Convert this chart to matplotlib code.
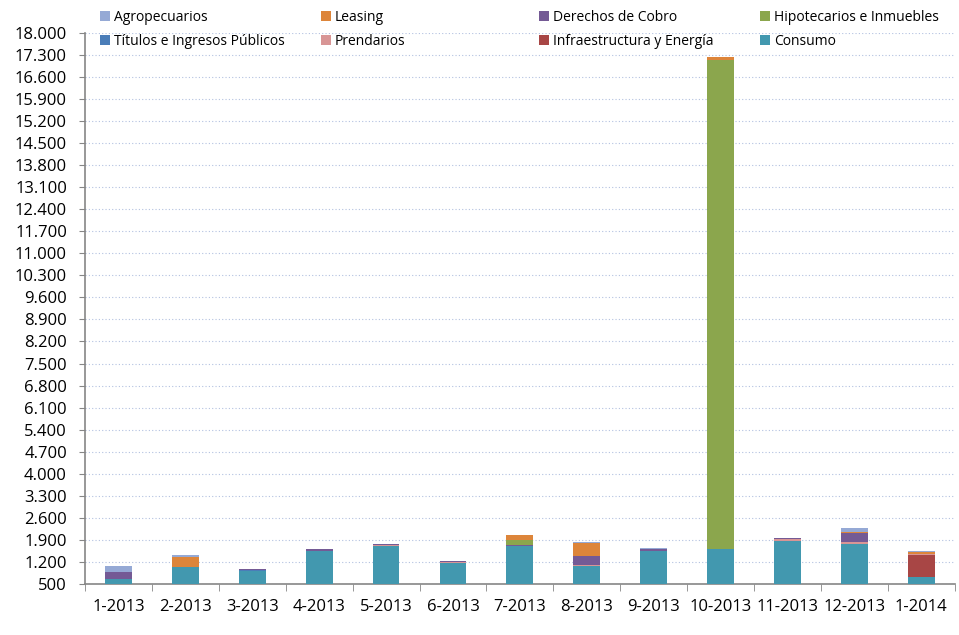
import matplotlib
matplotlib.use('Agg')
import matplotlib.pyplot as plt
from matplotlib.ticker import FuncFormatter
import numpy as np

plt.rcParams['font.family'] = ['Open Sans', 'DejaVu Sans']

months = ['1-2013', '2-2013', '3-2013', '4-2013', '5-2013', '6-2013', '7-2013',
          '8-2013', '9-2013', '10-2013', '11-2013', '12-2013', '1-2014']

# stacking order, bottom to top
consumo = [660, 1040, 910, 1550, 1715, 1165, 1715, 1080, 1550, 1610, 1865, 1780, 720]
infraestructura = [0, 0, 0, 0, 0, 0, 0, 0, 0, 0, 0, 0, 700]
prendarios = [0, 0, 0, 0, 30, 40, 0, 30, 0, 0, 63, 44, 20]
titulos = [0, 0, 20, 0, 0, 0, 0, 0, 0, 0, 0, 0, 0]
derechos = [230, 0, 45, 65, 30, 20, 30, 285, 65, 0, 32, 296, 0]
hipotecarios = [0, 0, 0, 0, 0, 0, 150, 0, 0, 15540, 0, 0, 0]
leasing = [0, 320, 0, 0, 0, 0, 170, 415, 0, 75, 0, 41, 85]
agropecuarios = [180, 65, 0, 0, 0, 0, 0, 30, 30, 0, 0, 118, 20]

series = [
    ('Consumo', consumo, '#4298AF'),
    ('Infraestructura y Energía', infraestructura, '#A84645'),
    ('Prendarios', prendarios, '#D89595'),
    ('Títulos e Ingresos Públicos', titulos, '#4A7DB8'),
    ('Derechos de Cobro', derechos, '#745A95'),
    ('Hipotecarios e Inmuebles', hipotecarios, '#8BA64D'),
    ('Leasing', leasing, '#DD853A'),
    ('Agropecuarios', agropecuarios, '#95A9D5'),
]

fig = plt.figure(figsize=(9.59, 6.35), dpi=100)
ax = fig.add_axes([0.0886, 0.0803, 0.907, 0.868])

x = np.arange(len(months))
bottom = np.zeros(len(months))
handles = {}
for name, vals, col in series:
    vals = np.array(vals, dtype=float)
    b = ax.bar(x, vals, bottom=bottom, width=0.4, color=col, label=name, zorder=3)
    handles[name] = b
    bottom += vals

ax.set_xlim(-0.5, len(months) - 0.5)
ax.set_ylim(500, 18000)
ax.set_yticks(np.arange(500, 18001, 700))
ax.yaxis.set_major_formatter(FuncFormatter(lambda v, p: '{:,.0f}'.format(v).replace(',', '.')))
ax.grid(axis='y', linestyle=(0, (1, 2)), color='#B3C1E0', linewidth=0.8, zorder=0)

ax.set_xticks(x)
ax.set_xticklabels(months)
ax.set_xticks(np.arange(-0.5, len(months), 1), minor=True)
ax.tick_params(axis='x', which='major', length=0, labelsize=12, pad=11)
ax.tick_params(axis='x', which='minor', length=5, color='#868686', direction='out')
ax.tick_params(axis='y', length=4, color='#868686', labelsize=12, pad=9)

for s in ['top', 'right']:
    ax.spines[s].set_visible(False)
for s in ['left', 'bottom']:
    ax.spines[s].set_color('#868686')
    ax.spines[s].set_linewidth(1.2)

# legend: four equal-width columns, two entries each (Excel style)
columns = [['Agropecuarios', 'Títulos e Ingresos Públicos'],
           ['Leasing', 'Prendarios'],
           ['Derechos de Cobro', 'Infraestructura y Energía'],
           ['Hipotecarios e Inmuebles', 'Consumo']]
col_x = [97, 318, 536, 757]
for cx, names in zip(col_x, columns):
    fig.legend([handles[n] for n in names], names, loc='upper left',
               bbox_to_anchor=(cx / 959, 1 - 7 / 635), frameon=False, fontsize=10,
               handlelength=0.7, handleheight=0.7, handletextpad=0.3,
               labelspacing=0.65, borderpad=0.2, borderaxespad=0)

plt.savefig('out.png', dpi=100)
